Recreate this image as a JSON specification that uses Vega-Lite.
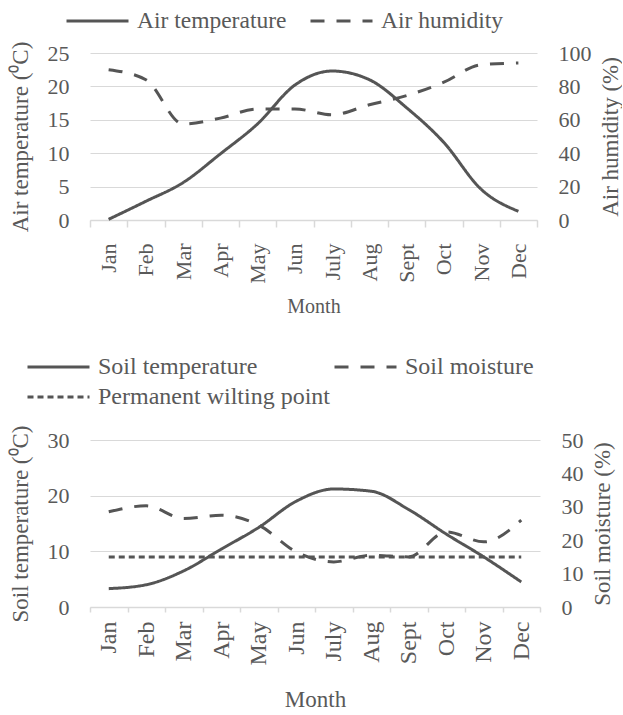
{
  "$schema": "https://vega.github.io/schema/vega-lite/v6.json",
  "padding": {"left": 9, "top": 9, "right": 0, "bottom": 0},
  "background": "white",
  "config": {
    "font": "serif",
    "view": {"stroke": null},
    "axis": {
      "labelFont": "serif",
      "labelFontSize": 22,
      "labelColor": "#595959",
      "titleFont": "serif",
      "titleFontSize": 23,
      "titleFontWeight": "normal",
      "titleColor": "#595959",
      "gridColor": "#d9d9d9",
      "gridWidth": 1.2,
      "domainColor": "#d9d9d9",
      "domainWidth": 1.5,
      "tickColor": "#d9d9d9",
      "tickWidth": 1.5
    },
    "legend": {
      "labelFont": "serif",
      "labelFontSize": 23.5,
      "labelColor": "#595959",
      "labelLimit": 400,
      "labelOffset": 7,
      "symbolType": "stroke",
      "symbolSize": 3844,
      "symbolStrokeWidth": 3,
      "symbolStrokeColor": "#555555",
      "clipHeight": 24,
      "title": null
    }
  },
  "datasets": {
    "air": [
      {"month": "Jan", "series": "Air temperature", "value": 0.1},
      {"month": "Feb", "series": "Air temperature", "value": 2.8},
      {"month": "Mar", "series": "Air temperature", "value": 5.6},
      {"month": "Apr", "series": "Air temperature", "value": 9.9},
      {"month": "May", "series": "Air temperature", "value": 14.4},
      {"month": "Jun", "series": "Air temperature", "value": 20.2},
      {"month": "July", "series": "Air temperature", "value": 22.3},
      {"month": "Aug", "series": "Air temperature", "value": 21.0},
      {"month": "Sept", "series": "Air temperature", "value": 16.8},
      {"month": "Oct", "series": "Air temperature", "value": 11.6},
      {"month": "Nov", "series": "Air temperature", "value": 4.6},
      {"month": "Dec", "series": "Air temperature", "value": 1.3},
      {"month": "Jan", "series": "Air humidity", "value": 90},
      {"month": "Feb", "series": "Air humidity", "value": 84},
      {"month": "Mar", "series": "Air humidity", "value": 57.5},
      {"month": "Apr", "series": "Air humidity", "value": 61},
      {"month": "May", "series": "Air humidity", "value": 66.5},
      {"month": "Jun", "series": "Air humidity", "value": 66.5},
      {"month": "July", "series": "Air humidity", "value": 63},
      {"month": "Aug", "series": "Air humidity", "value": 69},
      {"month": "Sept", "series": "Air humidity", "value": 74.5},
      {"month": "Oct", "series": "Air humidity", "value": 82.5},
      {"month": "Nov", "series": "Air humidity", "value": 93},
      {"month": "Dec", "series": "Air humidity", "value": 94}
    ],
    "soil": [
      {"month": "Jan", "series": "Soil temperature", "value": 3.3},
      {"month": "Feb", "series": "Soil temperature", "value": 4.0},
      {"month": "Mar", "series": "Soil temperature", "value": 6.5},
      {"month": "Apr", "series": "Soil temperature", "value": 10.4},
      {"month": "May", "series": "Soil temperature", "value": 14.3},
      {"month": "Jun", "series": "Soil temperature", "value": 19.0},
      {"month": "July", "series": "Soil temperature", "value": 21.2},
      {"month": "Aug", "series": "Soil temperature", "value": 20.8},
      {"month": "Sept", "series": "Soil temperature", "value": 17.5},
      {"month": "Oct", "series": "Soil temperature", "value": 13.1},
      {"month": "Nov", "series": "Soil temperature", "value": 9.0},
      {"month": "Dec", "series": "Soil temperature", "value": 4.5},
      {"month": "Jan", "series": "Soil moisture", "value": 28.5},
      {"month": "Feb", "series": "Soil moisture", "value": 30.3},
      {"month": "Mar", "series": "Soil moisture", "value": 26.5},
      {"month": "Apr", "series": "Soil moisture", "value": 27.5},
      {"month": "May", "series": "Soil moisture", "value": 24.5},
      {"month": "Jun", "series": "Soil moisture", "value": 16.5},
      {"month": "July", "series": "Soil moisture", "value": 13.5},
      {"month": "Aug", "series": "Soil moisture", "value": 15.5},
      {"month": "Sept", "series": "Soil moisture", "value": 15},
      {"month": "Oct", "series": "Soil moisture", "value": 22.5},
      {"month": "Nov", "series": "Soil moisture", "value": 19.5},
      {"month": "Dec", "series": "Soil moisture", "value": 26},
      {"month": "Jan", "series": "Permanent wilting point", "value": 15},
      {"month": "Feb", "series": "Permanent wilting point", "value": 15},
      {"month": "Mar", "series": "Permanent wilting point", "value": 15},
      {"month": "Apr", "series": "Permanent wilting point", "value": 15},
      {"month": "May", "series": "Permanent wilting point", "value": 15},
      {"month": "Jun", "series": "Permanent wilting point", "value": 15},
      {"month": "July", "series": "Permanent wilting point", "value": 15},
      {"month": "Aug", "series": "Permanent wilting point", "value": 15},
      {"month": "Sept", "series": "Permanent wilting point", "value": 15},
      {"month": "Oct", "series": "Permanent wilting point", "value": 15},
      {"month": "Nov", "series": "Permanent wilting point", "value": 15},
      {"month": "Dec", "series": "Permanent wilting point", "value": 15}
    ]
  },
  "spacing": 38,
  "resolve": {"scale": {"strokeDash": "independent"}, "legend": {"strokeDash": "independent"}},
  "vconcat": [
    {
      "width": 447,
      "height": 167,
      "data": {"name": "air"},
      "encoding": {
        "x": {
          "field": "month",
          "type": "ordinal",
          "sort": ["Jan", "Feb", "Mar", "Apr", "May", "Jun", "July", "Aug", "Sept", "Oct", "Nov", "Dec"],
          "scale": {"type": "band", "paddingInner": 0, "paddingOuter": 0},
          "bandPosition": 0.5,
          "axis": {"title": "Month", "titleFontSize": 20, "labelAngle": -90, "tickBand": "extent", "tickSize": 7, "labelPadding": 16, "titlePadding": 13, "grid": false}
        }
      },
      "layer": [
        {
          "transform": [{"filter": "datum.series === 'Air temperature'"}],
          "mark": {"type": "line", "interpolate": "monotone", "strokeWidth": 3, "color": "#555555"},
          "encoding": {
            "y": {"field": "value", "type": "quantitative", "scale": {"domain": [0, 25], "nice": false},
              "axis": {"title": "Air temperature (⁰C)", "values": [0, 5, 10, 15, 20, 25], "domain": false, "ticks": false, "tickSize": 0, "labelPadding": 21, "titlePadding": 15, "grid": true}},
            "strokeDash": {"field": "series", "type": "nominal",
              "scale": {"domain": ["Air temperature", "Air humidity"], "range": [[1, 0], [14, 12]]},
              "legend": {"orient": "none", "legendX": -25, "legendY": -44, "direction": "horizontal", "columns": 2, "columnPadding": 22}}
          }
        },
        {
          "transform": [{"filter": "datum.series === 'Air humidity'"}],
          "mark": {"type": "line", "interpolate": "monotone", "strokeWidth": 3, "color": "#555555"},
          "encoding": {
            "y": {"field": "value", "type": "quantitative", "scale": {"domain": [0, 100], "nice": false},
              "axis": {"orient": "right", "title": "Air humidity (%)", "titleAngle": -90, "titleBaseline": "top", "values": [0, 20, 40, 60, 80, 100], "domain": false, "ticks": false, "tickSize": 0, "labelPadding": 21, "titlePadding": 8, "grid": false}},
            "strokeDash": {"field": "series", "type": "nominal",
              "scale": {"domain": ["Air temperature", "Air humidity"], "range": [[1, 0], [14, 12]]}}
          }
        }
      ],
      "resolve": {"scale": {"y": "independent"}}
    },
    {
      "width": 450,
      "height": 167,
      "data": {"name": "soil"},
      "encoding": {
        "x": {
          "field": "month",
          "type": "ordinal",
          "sort": ["Jan", "Feb", "Mar", "Apr", "May", "Jun", "July", "Aug", "Sept", "Oct", "Nov", "Dec"],
          "scale": {"type": "band", "paddingInner": 0, "paddingOuter": 0},
          "bandPosition": 0.5,
          "axis": {"title": "Month", "titleFontSize": 23, "labelFontSize": 24, "labelAngle": -90, "tickBand": "extent", "tickSize": 5, "labelPadding": 9, "titlePadding": 24, "grid": false}
        }
      },
      "layer": [
        {
          "transform": [{"filter": "datum.series === 'Soil temperature'"}],
          "mark": {"type": "line", "interpolate": "monotone", "strokeWidth": 3, "color": "#555555"},
          "encoding": {
            "y": {"field": "value", "type": "quantitative", "scale": {"domain": [0, 30], "nice": false},
              "axis": {"title": "Soil temperature (⁰C)", "values": [0, 10, 20, 30], "domain": false, "ticks": false, "tickSize": 0, "labelPadding": 21, "titlePadding": 15, "grid": true}},
            "strokeDash": {"field": "series", "type": "nominal",
              "scale": {"domain": ["Soil temperature", "Soil moisture", "Permanent wilting point"], "range": [[1, 0], [14, 12], [6, 4]]},
              "legend": {"orient": "none", "legendX": -64, "legendY": -85, "direction": "horizontal", "columns": 2, "columnPadding": 3, "rowPadding": 6, "labelFontSize": 24}}
          }
        },
        {
          "transform": [{"filter": "datum.series !== 'Soil temperature'"}],
          "mark": {"type": "line", "interpolate": "monotone", "strokeWidth": 3, "color": "#555555"},
          "encoding": {
            "y": {"field": "value", "type": "quantitative", "scale": {"domain": [0, 50], "nice": false},
              "axis": {"orient": "right", "title": "Soil moisture (%)", "titleAngle": -90, "titleBaseline": "top", "values": [0, 10, 20, 30, 40, 50], "domain": false, "ticks": false, "tickSize": 0, "labelPadding": 21, "titlePadding": 8, "grid": false}},
            "strokeDash": {"field": "series", "type": "nominal",
              "scale": {"domain": ["Soil temperature", "Soil moisture", "Permanent wilting point"], "range": [[1, 0], [14, 12], [6, 4]]}}
          }
        }
      ],
      "resolve": {"scale": {"y": "independent"}}
    }
  ]
}
